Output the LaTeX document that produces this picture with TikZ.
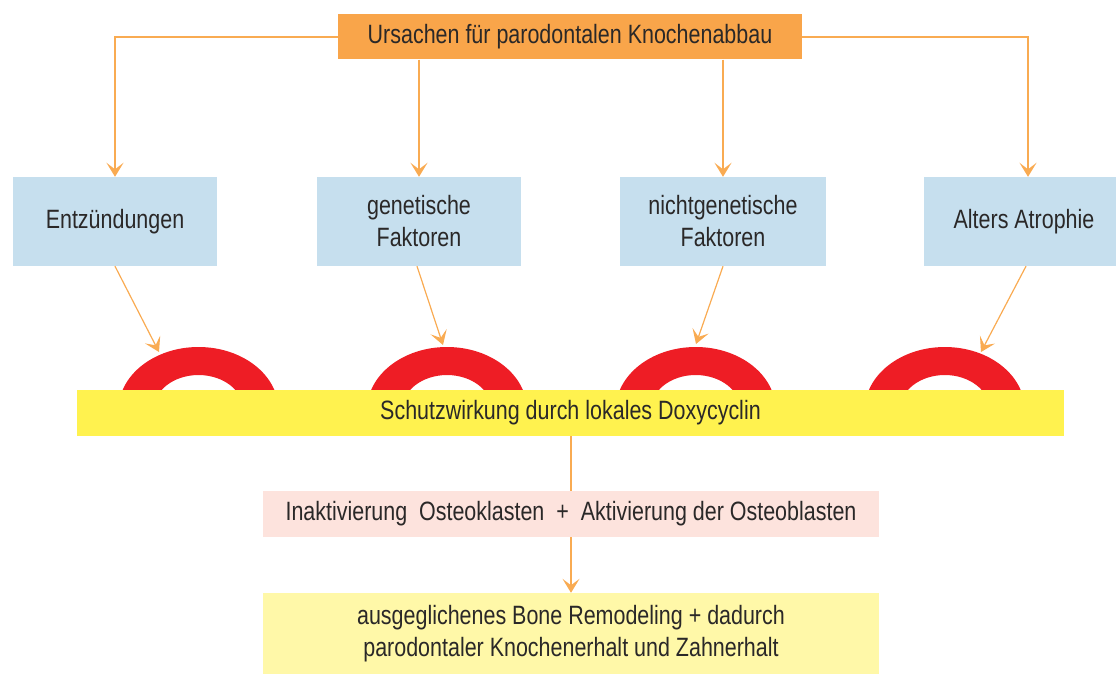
\documentclass[tikz,border=0pt]{standalone}
\usepackage{fontspec}
\setmainfont{Liberation Sans}[FakeStretch=0.81]
\usetikzlibrary{arrows.meta}
\definecolor{orangebox}{HTML}{F9A54A}
\definecolor{conn}{HTML}{F9AB52}
\definecolor{bluebox}{HTML}{C6DFEE}
\definecolor{barfill}{HTML}{FFF24F}
\definecolor{pinkbox}{HTML}{FDE3DD}
\definecolor{paleyellow}{HTML}{FFF8A8}
\definecolor{ringred}{HTML}{EE1D25}
\definecolor{txt}{HTML}{2A2828}
\tikzset{
  lbl/.style={inner sep=0pt, align=center, text=txt, font=\fontsize{26.5}{32}\selectfont},
  causebox/.style={lbl, fill=bluebox, minimum width=204pt, minimum height=89pt},
  conline/.style={draw=conn, line width=2pt},
  thinline/.style={draw=conn, line width=1.2pt},
  tip/.style={-{Stealth[length=14pt,width=17pt,inset=6.5pt]}},
}
\begin{document}
\begin{tikzpicture}[x=1pt,y=-1pt]
\useasboundingbox (0,0) rectangle (1116,675);
% top
\node[lbl, fill=orangebox, minimum width=464pt, minimum height=45pt] (top) at (570,36.8) {Ursachen für parodontalen Knochenabbau};
% causes
\node[causebox] (b1) at (115,221.5) {Entzündungen};
\node[causebox] (b2) at (419,221.5) {genetische\\Faktoren};
\node[causebox, minimum width=206pt] (b3) at (723,221.5) {nichtgenetische\\Faktoren};
\node[causebox, minimum width=192pt] (b4) at (1020,221.5) {\hspace*{8pt}Alters Atrophie};
% rings
\begin{scope}
\clip (0,0) rectangle (1116,391);
\foreach \cx in {198.5,447,695.7,944.8}{
  \fill[ringred, even odd rule] (\cx,410) ellipse [x radius=80, y radius=63]
                                 (\cx,410) ellipse [x radius=45, y radius=35];
}
\end{scope}
% bar
\node[lbl, fill=barfill, minimum width=987pt, minimum height=46pt] (bar) at (570.5,413) {Schutzwirkung durch lokales Doxycyclin};
\node[lbl, fill=pinkbox, minimum width=616pt, minimum height=46pt] (mid) at (571,514) {Inaktivierung\ \ Osteoklasten\ \ +\ \ Aktivierung der Osteoblasten};
\node[lbl, fill=paleyellow, minimum width=616pt, minimum height=81pt] (res) at (571,633.5) {ausgeglichenes Bone Remodeling + dadurch\\parodontaler Knochenerhalt und Zahnerhalt};
% ring tips
\coordinate (t1) at (159,352);
\coordinate (t2) at (443,345);
\coordinate (t3) at (696,344);
\coordinate (t4) at (981,352);
% connectors top
\draw[conline, tip] (top.west) -| (b1.north);
\draw[conline, tip] (top.south -| b2.north) -- (b2.north);
\draw[conline, tip] (top.south -| b3.north) -- (b3.north);
\draw[conline, tip] (top.east) -| ([xshift=8pt]b4.north);
% diagonal
\draw[thinline, tip] (b1.south) -- (t1);
\draw[thinline, tip] ([xshift=-2pt]b2.south) -- (t2);
\draw[thinline, tip] (b3.south) -- (t3);
\draw[thinline, tip] ([xshift=6pt]b4.south) -- (t4);
% bottom
\draw[thinline] (bar.south -| mid.north) -- (mid.north);
\draw[thinline, tip] (mid.south) -- (res.north);
\end{tikzpicture}
\end{document}
